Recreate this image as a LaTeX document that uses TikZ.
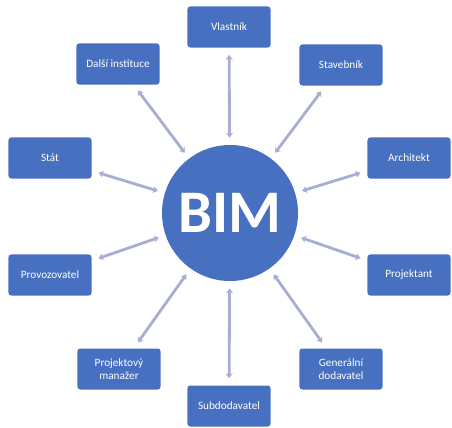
\documentclass[tikz,border=0pt]{standalone}
\usepackage{fontspec}
\setmainfont{Carlito}
\usetikzlibrary{arrows.meta}

\definecolor{bimblue}{HTML}{4770C0}
\definecolor{linkgray}{HTML}{A8AED2}

\tikzset{
	actor/.style={fill=bimblue, rounded corners=2pt, minimum width=2.075cm, minimum height=1.025cm,
		text=white, font=\fontsize{8}{9.5}\selectfont, align=center, inner sep=1pt},
	hub/.style={circle, fill=bimblue, minimum size=3.4cm, text=white, font=\fontsize{43}{43}\selectfont\bfseries},
	link/.style={linkgray, line width=2pt, {Stealth[length=3.5pt,width=5pt]}-{Stealth[length=3.5pt,width=5pt]},
		shorten <=5pt, shorten >=5pt}
}

\begin{document}
\begin{tikzpicture}[x=0.025cm,y=-0.025cm]
	\useasboundingbox (0,0) rectangle (452,427);
	% Center
	\node[hub] (bim) at (230,213) {BIM};
	% Actors around
	\node[actor] (vlastnik)   at (229,27)  {Vlastník};
	\node[actor] (dalsi)      at (118,64)  {Další instituce};
	\node[actor] (stavebnik)  at (341,65)  {Stavebník};
	\node[actor] (stat)       at (50,158)  {Stát};
	\node[actor] (architekt)  at (409,158) {Architekt};
	\node[actor] (provoz)     at (50,275)  {Provozovatel};
	\node[actor] (projektant) at (409,275) {Projektant};
	\node[actor] (manazer)    at (119,369) {Projektový\\manažer};
	\node[actor] (generalni)  at (341,369) {Generální\\dodavatel};
	\node[actor] (subdod)     at (229,406) {Subdodavatel};
	% Links
	\foreach \who in {vlastnik,dalsi,stavebnik,stat,architekt,provoz,projektant,manazer,generalni,subdod}
		\draw[link] (bim) -- (\who);
\end{tikzpicture}
\end{document}
